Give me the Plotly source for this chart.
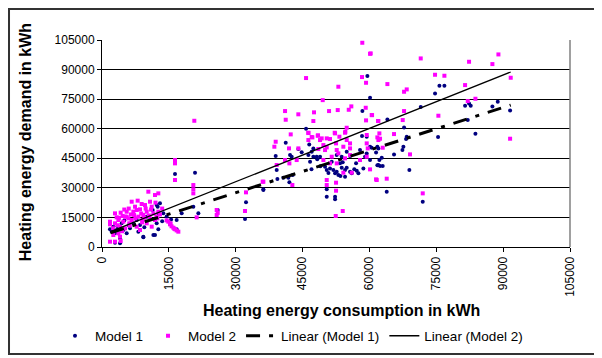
import plotly.graph_objects as go

# ---------------- data ----------------
m1_x = [2170, 3290, 4790, 6280, 7030, 7780, 9270, 11520, 12270, 12640, 10770, 8530, 5540, 4040, 2540, 4410,
        10030, 11370, 8150, 1790, 2920, 16380, 20870, 20490, 21620, 16750, 16750, 12640, 12270, 13010, 13760,
        17880, 12490, 9280, 11890, 2920, 4040, 14500, 15500, 6000, 3500, 9500, 13500, 5000,
        25960, 32310, 32090, 36200,
        41220, 38970, 39190, 36200, 39350, 40690, 41810, 42040, 42790, 44060, 42190, 42560, 46300, 47050, 47420,
        47420, 48170, 48920, 52660, 53780, 54900, 55650, 57890, 60140, 62010, 60140, 62010, 51540, 50040, 50420,
        51160, 51910, 52290, 52660, 53030, 53780, 54530, 54900, 55650, 56020, 57150, 57520, 58640, 59390, 59020,
        50420, 50420, 52290, 52290, 54530, 53410, 46680,
        59540, 60140, 58420, 45780, 58340, 59390,
        64030, 71510, 74720, 75700, 76820, 67770, 68370, 68220, 75400, 81460, 82350, 82730, 88790, 87590, 91560,
        82060, 83780, 60510, 61780, 61490, 62230, 62760, 65520, 67620, 67400, 61780, 62380, 62980, 68960, 63880,
        71960,
        49000, 50800, 53500, 56600, 48300, 54000, 57000, 47000, 44800, 46500]
m1_y = [7770, 8620, 8620, 9460, 12000, 13690, 5240, 6080, 21290, 17070, 14030, 11150, 6930, 4400, 10310, 12000,
        15380, 18760, 7770, 8960, 6930, 37010, 37690, 20450, 17070, 13690, 8960, 8960, 12000, 22140, 17070,
        17070, 20450, 4900, 6080, 2200, 1850, 15500, 14000, 11000, 10500, 10000, 13000, 13500,
        18760, 22650, 14200, 29240,
        52900, 46140, 39040, 28900, 34480, 35150, 35150, 32790, 36500, 49690, 46640, 45800, 46640, 48330, 50020,
        45800, 45800, 45800, 46640, 45800, 48330, 46140, 49180, 50870, 50020, 44110, 41580, 43260, 40730, 39040,
        39880, 39040, 37350, 38190, 36500, 40220, 39040, 40220, 38190, 37350, 38700, 37350, 39880, 47490, 45800,
        29240, 25520, 25520, 24170, 35660, 42420, 43260,
        86700, 75710, 68950, 60000, 56280, 55940,
        64730, 70980, 77910, 81800, 81800, 60670, 55940, 54760, 55770, 71660, 72840, 71660, 73680, 71320, 69290,
        64390, 57460, 50360, 50870, 47990, 44110, 45290, 46980, 50870, 49180, 41410, 41070, 41070, 39040, 28050,
        22980,
        41000, 37500, 36000, 39500, 44500, 43000, 42500, 39500, 48000, 52000]

m2_x = [10400, 11890, 6660, 8900, 9650, 10770, 11150, 2920, 4190, 5540, 5160, 7030, 7780, 8530, 10030, 11520,
        12640, 1790, 2920, 3670, 4790, 5910, 6660, 8150, 9270, 10770, 11890, 4040, 5160, 7780, 8530, 10030,
        11150, 2540, 3670, 1790, 2920, 4190, 4040, 5540, 7410, 6130, 9120, 3290, 4640,
        6500, 7500, 8800, 9800, 3500, 2500, 6000, 7200, 10500, 12200, 4500, 6200, 9000, 11000, 12000, 8000,
        5000, 3800, 13000, 13500, 9500, 1800,
        14880, 15250, 15600, 16000, 16400, 16750, 17130, 14500, 15400, 16200, 12420, 12640,
        16380, 16380, 16380, 20490, 20490, 20490, 21240, 25730, 25730, 25960, 32310, 32090, 36200, 20710,
        38970, 38670, 42340, 46300, 47200, 48400, 48920, 50420, 51160, 52290, 53260, 54530, 54900, 55650, 52510,
        54150, 50420, 50040, 52660, 55650, 59390, 59620, 62010, 41960, 44060, 48550, 53030, 55650, 57890, 41060,
        42040, 39190, 43680, 49670, 51160, 52660, 54530, 59390, 60140, 61640, 36050, 42710, 50420, 50420, 52510,
        52510, 54010, 52440, 54150, 56020, 49670, 51540, 49290, 46300,
        58400, 60140, 45780, 53030, 58340, 59240, 49520, 41070, 41220, 44050, 47570, 47420, 50940, 52890, 55360,
        55940, 59170, 59240, 60590, 61930, 54900, 46300, 47050, 48470, 52210, 54600, 59400,
        60290, 71510, 82350, 88940, 87590, 74720, 76820, 64030, 67770, 68370, 81460, 91700, 82060, 83780, 67770,
        75470, 60510, 62010, 67470, 62230, 61780, 62380, 65520, 62980, 69110, 91560, 61490, 63880, 71960]
m2_y = [28050, 26360, 22980, 21800, 21290, 22980, 20450, 17070, 17410, 17910, 15380, 17910, 18760, 19100, 17910, 17070,
        17910, 12850, 12000, 13690, 12850, 14530, 13690, 15380, 16220, 14530, 13690, 10310, 9460, 10310, 8620, 12000,
        10310, 6080, 6930, 2700, 2700, 3040, 5240, 15380, 20450, 12000, 13690, 15040, 15720,
        16500, 14500, 17000, 19500, 11000, 9500, 19500, 16200, 16000, 15500, 8000, 10800, 12500, 19000, 22500, 23500,
        19000, 14800, 16500, 19500, 14800, 11500,
        12850, 11500, 10500, 9800, 9000, 8400, 7770, 13500, 12000, 9300, 14530, 27210,
        44110, 42420, 33970, 31430, 29300, 27210, 15040, 18760, 16220, 17300, 27720, 18250, 33120, 64030,
        53400, 50870, 57120, 57970, 55600, 56450, 54250, 55100, 54760, 57630, 55940, 57970, 54250, 52560, 52560,
        50870, 50530, 49180, 49180, 50020, 52560, 50020, 54250, 50020, 50020, 49690, 47490, 46640, 44110, 44110,
        42420, 41580, 44110, 44110, 42420, 42420, 44960, 45800, 39380, 33970, 33120, 31430, 33970, 31430, 32620,
        28560, 18250, 15720, 37690, 37690, 51710, 45800, 55100, 54250,
        103600, 98000, 85700, 81300, 86200, 83300, 74500, 68950, 64550, 67300, 68300, 63900, 68950, 69460, 69610,
        71330, 70630, 64230, 66900, 63900, 60490, 57800, 55770, 56630, 57950, 58460, 56800,
        98190, 95650, 93960, 97680, 92780, 87370, 86870, 82640, 78750, 79940, 82130, 85850, 74020, 75200, 68950,
        66590, 66920, 63880, 64390, 57630, 55600, 54930, 57290, 50360, 46980, 54930, 34310, 34650, 27210]

# linear trend end points
trend_x = [1900, 91700]
trend1_y = [7250, 72000]
trend2_y = [7760, 88770]

ticks = [0, 15000, 30000, 45000, 60000, 75000, 90000, 105000]

FONT = "Liberation Sans, Arial, sans-serif"

fig = go.Figure()
fig.add_trace(go.Scatter(x=m1_x, y=m1_y, mode="markers", name="Model 1",
                         marker=dict(symbol="circle", size=4, color="#000080")))
fig.add_trace(go.Scatter(x=m2_x, y=m2_y, mode="markers", name="Model 2",
                         marker=dict(symbol="square", size=4, color="#FF00FF")))
fig.add_trace(go.Scatter(x=trend_x, y=trend1_y, mode="lines", name="Linear (Model 1)",
                         line=dict(color="black", width=3, dash="14px,9px,4px,9px")))
fig.add_trace(go.Scatter(x=trend_x, y=trend2_y, mode="lines", name="Linear (Model 2)",
                         line=dict(color="black", width=1.3)))

fig.update_xaxes(range=[0, 105000], tickvals=ticks, tickformat="d", tickangle=-90, automargin=False,
                 showgrid=False, zeroline=False, showline=True, linecolor="black", linewidth=1,
                 ticks="outside", ticklen=4, tickcolor="black",
                 tickfont=dict(family=FONT, size=12, color="black"))
fig.update_yaxes(range=[0, 105000], tickvals=ticks, tickformat="d", automargin=False,
                 showgrid=True, gridcolor="black", gridwidth=1, zeroline=False,
                 showline=True, linecolor="black", linewidth=1,
                 ticks="outside", ticklen=4, tickcolor="black",
                 tickfont=dict(family=FONT, size=12, color="black"))

# the page body has an 8px margin, so the figure is sized to fill the rest of the window
fig.update_layout(
    width=594, height=350,
    margin=dict(l=94, r=32, t=32, b=111),
    paper_bgcolor="white", plot_bgcolor="white",
    font=dict(family=FONT, color="black"),
    showlegend=True,
    legend=dict(orientation="h", xref="container", yref="container",
                x=0.0791, xanchor="left", y=0.0629, yanchor="middle",
                font=dict(family=FONT, size=13.5, color="black"),
                bgcolor="rgba(0,0,0,0)", itemwidth=30, tracegroupgap=0),
    annotations=[
        dict(text="<b>Heating energy consumption in kWh</b>", xref="paper", yref="paper",
             x=0.511, y=-0.305, xanchor="center", yanchor="middle", showarrow=False,
             font=dict(family=FONT, size=16, color="black")),
        dict(text="<b>Heating energy demand in kWh</b>", xref="paper", yref="paper",
             x=-0.163, y=0.505, xanchor="center", yanchor="middle", textangle=-90, showarrow=False,
             font=dict(family=FONT, size=16, color="black")),
    ],
    shapes=[
        dict(type="line", xref="paper", yref="paper", x0=1, x1=1, y0=0, y1=1,
             line=dict(color="#808080", width=1.5)),
        dict(type="rect", xref="paper", yref="paper", x0=-0.1987, x1=1.0577, y0=-0.517, y1=1.15,
             line=dict(color="#333333", width=2)),
    ],
)

fig.write_html("out.html")
